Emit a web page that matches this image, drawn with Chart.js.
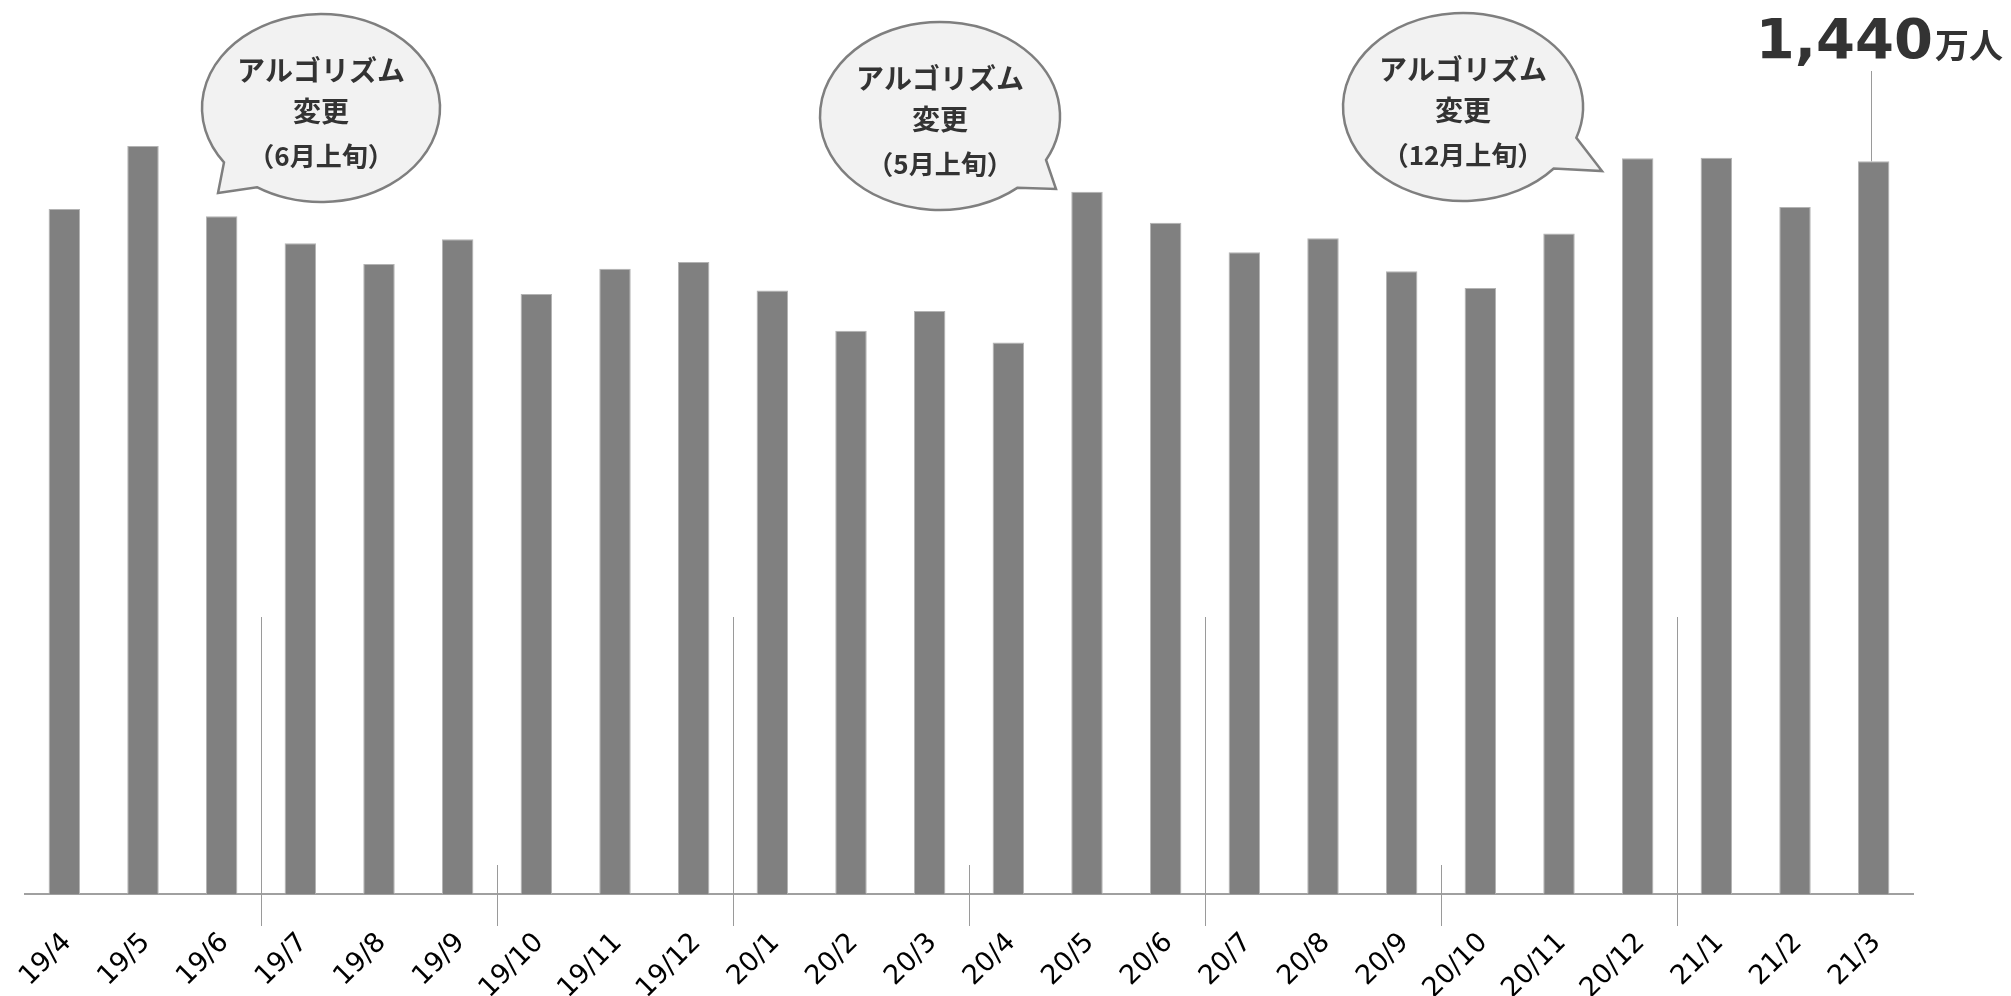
<!DOCTYPE html>
<html lang="ja">
<head>
<meta charset="utf-8">
<title>月間ユーザー数の推移</title>
<script src="https://cdn.jsdelivr.net/npm/chart.js@4.4.1/dist/chart.umd.min.js"></script>
<style>
  html, body { margin: 0; padding: 0; background: #fff; }
  #wrap { width: 2011px; height: 996px; }
</style>
</head>
<body>
<div id="wrap"><canvas id="usersChart" width="2011" height="996"></canvas></div>
<script>
// --- Data ---
const months = ['19/4', '19/5', '19/6', '19/7', '19/8', '19/9', '19/10', '19/11', '19/12',
                '20/1', '20/2', '20/3', '20/4', '20/5', '20/6', '20/7', '20/8', '20/9',
                '20/10', '20/11', '20/12', '21/1', '21/2', '21/3'];
// monthly users (万人)
const users = [1346, 1470, 1332, 1279, 1238, 1287, 1179, 1229, 1242,
               1186, 1107, 1146, 1084, 1380, 1319, 1261, 1289, 1224,
               1191, 1298, 1446, 1447, 1350, 1440];
const unitLabel = '万人';

// separators sit after these category indexes
const halfYearBreaks = [2, 8, 14, 20];
const quarterBreaks = [5, 11, 17];

const calloutTexts = [
    ['アルゴリズム', '変更', '（6月上旬）'],
    ['アルゴリズム', '変更', '（5月上旬）'],
    ['アルゴリズム', '変更', '（12月上旬）']
];

// bubble shapes (canvas px): ellipse, two tail base points, tail tip
const bubbles = [
    { cx: 321, cy: 108, rx: 119, ry: 94, a: [223, 163], b: [257, 187], tip: [218, 193] },
    { cx: 940, cy: 116, rx: 120, ry: 94, a: [1046, 160], b: [1017, 187], tip: [1056, 189] },
    { cx: 1463, cy: 107, rx: 120, ry: 94, a: [1577, 138], b: [1553, 168], tip: [1602, 171] }
];

function drawBubble(ctx, bub, lines) {
    const ta = Math.atan2((bub.a[1] - bub.cy) / bub.ry, (bub.a[0] - bub.cx) / bub.rx);
    const tb = Math.atan2((bub.b[1] - bub.cy) / bub.ry, (bub.b[0] - bub.cx) / bub.rx);
    let d = (tb - ta) % (2 * Math.PI);
    if (d < 0) d += 2 * Math.PI;
    let start, end;
    if (d < Math.PI) { start = tb; end = ta; } else { start = ta; end = tb; }

    ctx.beginPath();
    ctx.ellipse(bub.cx, bub.cy, bub.rx, bub.ry, 0, start, end, false);
    ctx.lineTo(bub.tip[0], bub.tip[1]);
    ctx.closePath();
    ctx.fillStyle = '#f2f2f2';
    ctx.fill();
    ctx.lineWidth = 2.5;
    ctx.strokeStyle = '#7f7f7f';
    ctx.lineJoin = 'miter';
    ctx.stroke();

    ctx.fillStyle = '#333333';
    ctx.textAlign = 'center';
    ctx.textBaseline = 'middle';
    const offsets = [-38, 3, 48];
    const sizes = [28, 28, 26];
    lines.forEach((txt, i) => {
        ctx.font = 'bold ' + sizes[i] + 'px "Noto Sans CJK JP"';
        ctx.fillText(txt, bub.cx, bub.cy + offsets[i]);
    });
}

const annotationPlugin = {
    id: 'annotations',
    afterDraw(chart) {
        const ctx = chart.ctx;
        const xs = chart.scales.x;
        const bottom = chart.chartArea.bottom;
        ctx.save();

        // period separators
        ctx.strokeStyle = '#9a9a9a';
        ctx.lineWidth = 1;
        const sep = (i, top) => {
            const px = Math.round((xs.getPixelForValue(i) + xs.getPixelForValue(i + 1)) / 2) + 0.5;
            ctx.beginPath();
            ctx.moveTo(px, top);
            ctx.lineTo(px, bottom + 32);
            ctx.stroke();
        };
        halfYearBreaks.forEach(i => sep(i, bottom - 277));
        quarterBreaks.forEach(i => sep(i, bottom - 29));

        // callouts
        bubbles.forEach((b, i) => drawBubble(ctx, b, calloutTexts[i]));

        // latest value label + leader line
        const meta = chart.getDatasetMeta(0);
        const last = meta.data[users.length - 1];
        const lx = Math.round(last.x - 3) + 0.5;
        ctx.strokeStyle = '#9a9a9a';
        ctx.lineWidth = 1;
        ctx.beginPath();
        ctx.moveTo(lx, 71);
        ctx.lineTo(lx, last.y);
        ctx.stroke();

        const valueText = users[users.length - 1].toLocaleString('en-US');
        ctx.fillStyle = '#333333';
        ctx.textBaseline = 'alphabetic';
        ctx.textAlign = 'right';
        ctx.font = 'bold 34px "Noto Sans CJK JP"';
        const unitW = ctx.measureText(unitLabel).width;
        ctx.fillText(unitLabel, 2003, 58);
        ctx.font = 'bold 56px "DejaVu Sans"';
        ctx.fillText(valueText, 2003 - unitW - 2, 58);

        ctx.restore();
    }
};

const ctx = document.getElementById('usersChart').getContext('2d');
const chart = new Chart(ctx, {
    type: 'bar',
    data: {
        labels: months,
        datasets: [{
            label: 'ユーザー数（万人）',
            data: users,
            backgroundColor: '#808080',
            borderColor: '#b3b3b3',
            borderWidth: 1,
            categoryPercentage: 1.0,
            barPercentage: 0.4
        }]
    },
    options: {
        responsive: false,
        animation: false,
        events: [],
        layout: { padding: { top: 29, left: 25, right: 98, bottom: 0 } },
        plugins: {
            legend: { display: false },
            tooltip: { enabled: false }
        },
        scales: {
            x: {
                grid: { display: false, drawTicks: false },
                border: { display: true, color: '#a0a0a0', width: 2 },
                ticks: {
                    color: '#000000',
                    font: { family: '"DejaVu Sans"', size: 27 },
                    minRotation: 45,
                    maxRotation: 45,
                    autoSkip: false,
                    padding: 33,
                    labelOffset: 3
                },
                afterFit(scale) {
                    scale.height = 102;
                    scale.paddingLeft = 0;
                    scale.paddingRight = 0;
                }
            },
            y: {
                display: false,
                min: 0,
                max: 1700
            }
        }
    },
    plugins: [annotationPlugin]
});
</script>
</body>
</html>
